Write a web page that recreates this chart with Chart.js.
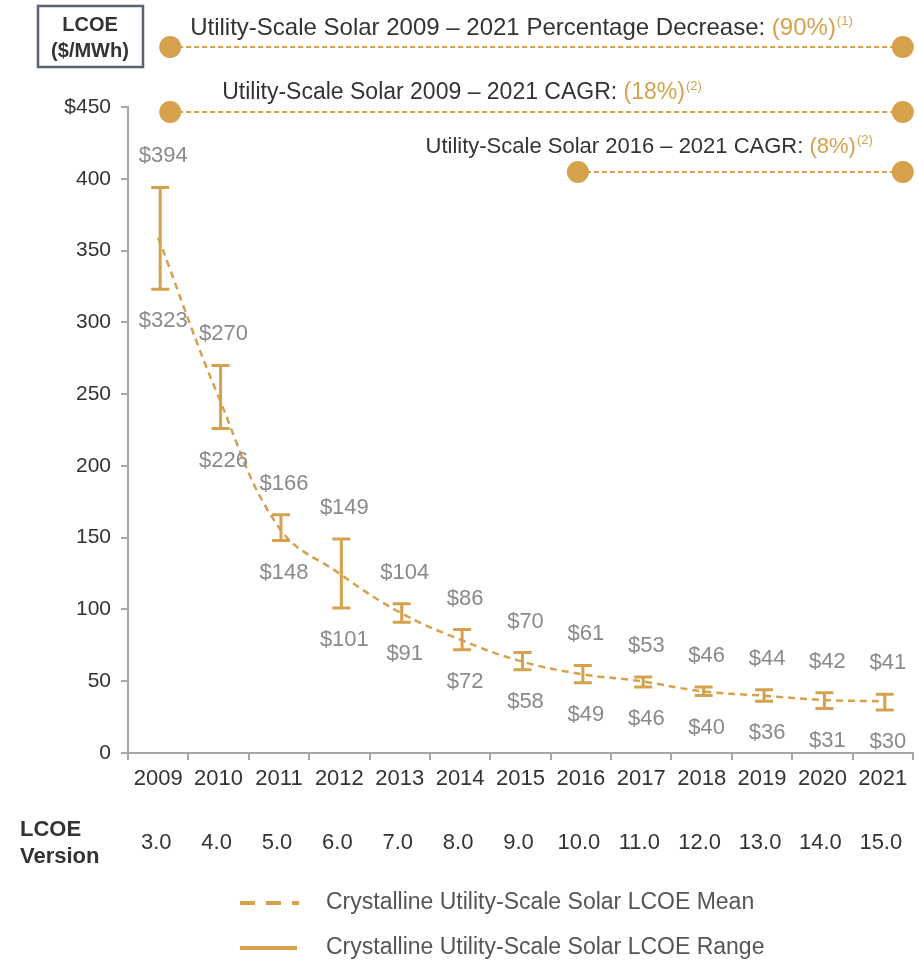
<!DOCTYPE html>
<html>
<head>
<meta charset="utf-8">
<script src="https://cdn.jsdelivr.net/npm/chart.js@4.4.0/dist/chart.umd.min.js"></script>
<style>
html,body{margin:0;padding:0;background:#fff;}
#wrap{width:918px;height:966px;position:relative;}
</style>
</head>
<body>
<div id="wrap"><canvas id="c" width="918" height="966"></canvas></div>
<script>
const years = ['2009','2010','2011','2012','2013','2014','2015','2016','2017','2018','2019','2020','2021'];
const versions = ['3.0','4.0','5.0','6.0','7.0','8.0','9.0','10.0','11.0','12.0','13.0','14.0','15.0'];
const meanValues = [359, 248, 157, 125, 98, 79, 64, 55, 50, 43, 40, 37, 36];
const highValues = [394, 270, 166, 149, 104, 86, 70, 61, 53, 46, 44, 42, 41];
const lowValues  = [323, 226, 148, 101, 91, 72, 58, 49, 46, 40, 36, 31, 30];
const yTicks = [0, 50, 100, 150, 200, 250, 300, 350, 400, 450];
const annotations = [
  {text: 'Utility-Scale Solar 2009 \u2013 2021 Percentage Decrease: ', value: '(90%)', note: '(1)', from: '2009'},
  {text: 'Utility-Scale Solar 2009 \u2013 2021 CAGR: ', value: '(18%)', note: '(2)', from: '2009'},
  {text: 'Utility-Scale Solar 2016 \u2013 2021 CAGR: ', value: '(8%)', note: '(2)', from: '2016'}
];
const legendLabels = ['Crystalline Utility-Scale Solar LCOE Mean', 'Crystalline Utility-Scale Solar LCOE Range'];

const GOLD = '#D6A14C';
const TXT = '#333333';
const LBL = '#8a8a8a';
const AXIS = '#a6a6a6';
const FONT = '"Liberation Sans", Arial, sans-serif';

const rangePlugin = {
  id: 'rangePlugin',
  afterDatasetsDraw(chart) {
    const ctx = chart.ctx, x = chart.scales.x, y = chart.scales.y;
    ctx.save();
    ctx.strokeStyle = GOLD;
    ctx.lineWidth = 3;
    ctx.lineCap = 'butt';
    for (let i = 0; i < years.length; i++) {
      const px = x.getPixelForValue(i) + 2;
      const yh = y.getPixelForValue(highValues[i]);
      const yl = y.getPixelForValue(lowValues[i]);
      ctx.beginPath();
      ctx.moveTo(px, yh); ctx.lineTo(px, yl);
      ctx.moveTo(px - 9, yh); ctx.lineTo(px + 9, yh);
      ctx.moveTo(px - 9, yl); ctx.lineTo(px + 9, yl);
      ctx.stroke();
      ctx.fillStyle = LBL;
      ctx.font = '22px ' + FONT;
      ctx.textAlign = 'center';
      ctx.textBaseline = 'middle';
      ctx.fillText('$' + highValues[i], px + 3, yh - 31);
      ctx.fillText('$' + lowValues[i], px + 3, yl + 32);
    }
    ctx.restore();
  },
  afterDraw(chart) {
    const ctx = chart.ctx, x = chart.scales.x;
    ctx.save();
    // LCOE box
    ctx.strokeStyle = '#5b6272';
    ctx.lineWidth = 2.5;
    ctx.strokeRect(38, 6, 105, 61);
    ctx.fillStyle = TXT;
    ctx.font = 'bold 20px ' + FONT;
    ctx.textAlign = 'center';
    ctx.textBaseline = 'middle';
    ctx.fillText('LCOE', 90, 25);
    ctx.fillText('($/MWh)', 90, 51);

    // annotations
    const rowsLine = [47, 112, 172];
    const rowsText = [28, 93, 147];
    const rowsSize = [24, 23, 22];
    const right = x.getPixelForValue(years.length - 1) + 20;
    annotations.forEach((a, k) => {
      const left = a.from === '2009' ? x.getPixelForValue(0) + 12 : x.getPixelForValue(years.indexOf(a.from)) - 3;
      const ly = rowsLine[k];
      ctx.strokeStyle = GOLD;
      ctx.lineWidth = 2;
      ctx.setLineDash([5, 3]);
      ctx.beginPath(); ctx.moveTo(left, ly); ctx.lineTo(right, ly); ctx.stroke();
      ctx.setLineDash([]);
      ctx.fillStyle = GOLD;
      ctx.beginPath(); ctx.arc(left, ly, 11, 0, Math.PI * 2); ctx.fill();
      ctx.beginPath(); ctx.arc(right, ly, 11, 0, Math.PI * 2); ctx.fill();
      // text
      const fs = rowsSize[k] + 'px ' + FONT;
      ctx.font = fs;
      const w1 = ctx.measureText(a.text).width;
      const w2 = ctx.measureText(a.value).width;
      ctx.font = '13px ' + FONT;
      const w3 = ctx.measureText(a.note).width;
      const total = w1 + w2 + w3 + 1;
      let tx;
      if (k === 0) tx = left + 20;
      else if (k === 1) tx = left + 52;
      else tx = right - 30 - total;
      ctx.textAlign = 'left';
      ctx.textBaseline = 'middle';
      ctx.font = fs;
      ctx.fillStyle = TXT;
      ctx.fillText(a.text, tx, rowsText[k]);
      ctx.fillStyle = GOLD;
      ctx.fillText(a.value, tx + w1, rowsText[k]);
      ctx.font = '13px ' + FONT;
      ctx.fillText(a.note, tx + w1 + w2 + 1, rowsText[k] - 7);
    });

    // LCOE version row
    ctx.fillStyle = TXT;
    ctx.font = 'bold 22px ' + FONT;
    ctx.textAlign = 'left';
    ctx.textBaseline = 'middle';
    ctx.fillText('LCOE', 20, 830);
    ctx.fillText('Version', 20, 857);
    ctx.font = '22px ' + FONT;
    ctx.textAlign = 'center';
    versions.forEach((v, i) => {
      ctx.fillText(v, x.getPixelForValue(i) - 2, 843);
    });

    // legend
    const lx0 = 240, lx1 = 297;
    ctx.strokeStyle = GOLD;
    ctx.lineWidth = 4;
    ctx.setLineDash([15, 11]);
    ctx.beginPath(); ctx.moveTo(lx0, 903); ctx.lineTo(lx1 + 2, 903); ctx.stroke();
    ctx.setLineDash([]);
    ctx.beginPath(); ctx.moveTo(lx0, 948); ctx.lineTo(lx1, 948); ctx.stroke();
    ctx.fillStyle = '#555555';
    ctx.font = '23px ' + FONT;
    ctx.textAlign = 'left';
    ctx.fillText(legendLabels[0], 326, 903);
    ctx.fillText(legendLabels[1], 326, 948);
    ctx.restore();
  }
};

new Chart(document.getElementById('c'), {
  type: 'line',
  data: {
    labels: years,
    datasets: [{
      label: legendLabels[0],
      data: meanValues,
      borderColor: GOLD,
      borderWidth: 2.5,
      borderDash: [7, 5],
      pointRadius: 0,
      tension: 0.4,
      fill: false
    }]
  },
  options: {
    responsive: false,
    animation: false,
    devicePixelRatio: 1,
    layout: {padding: {top: 107, right: 5, left: 0, bottom: 0}},
    plugins: {legend: {display: false}, tooltip: {enabled: false}},
    scales: {
      x: {
        type: 'category',
        offset: true,
        afterFit(s) { s.height = 213; },
        grid: {display: true, offset: true, drawOnChartArea: false, drawTicks: true, tickLength: 7, color: AXIS, lineWidth: 2},
        border: {display: true, color: AXIS, width: 2},
        ticks: {color: TXT, font: {family: FONT, size: 22}, padding: 6, maxRotation: 0, autoSkip: false}
      },
      y: {
        min: 0, max: 450,
        afterFit(s) { s.width = 128; },
        afterBuildTicks(s) { s.ticks = yTicks.map(v => ({value: v})); },
        grid: {display: true, drawOnChartArea: false, drawTicks: true, tickLength: 7, color: AXIS, lineWidth: 2},
        border: {display: true, color: AXIS, width: 2},
        ticks: {
          color: TXT, font: {family: FONT, size: 21}, padding: 10,
          callback: (v) => v === 450 ? '$450' : String(v)
        }
      }
    }
  },
  plugins: [rangePlugin]
});
</script>
</body>
</html>
